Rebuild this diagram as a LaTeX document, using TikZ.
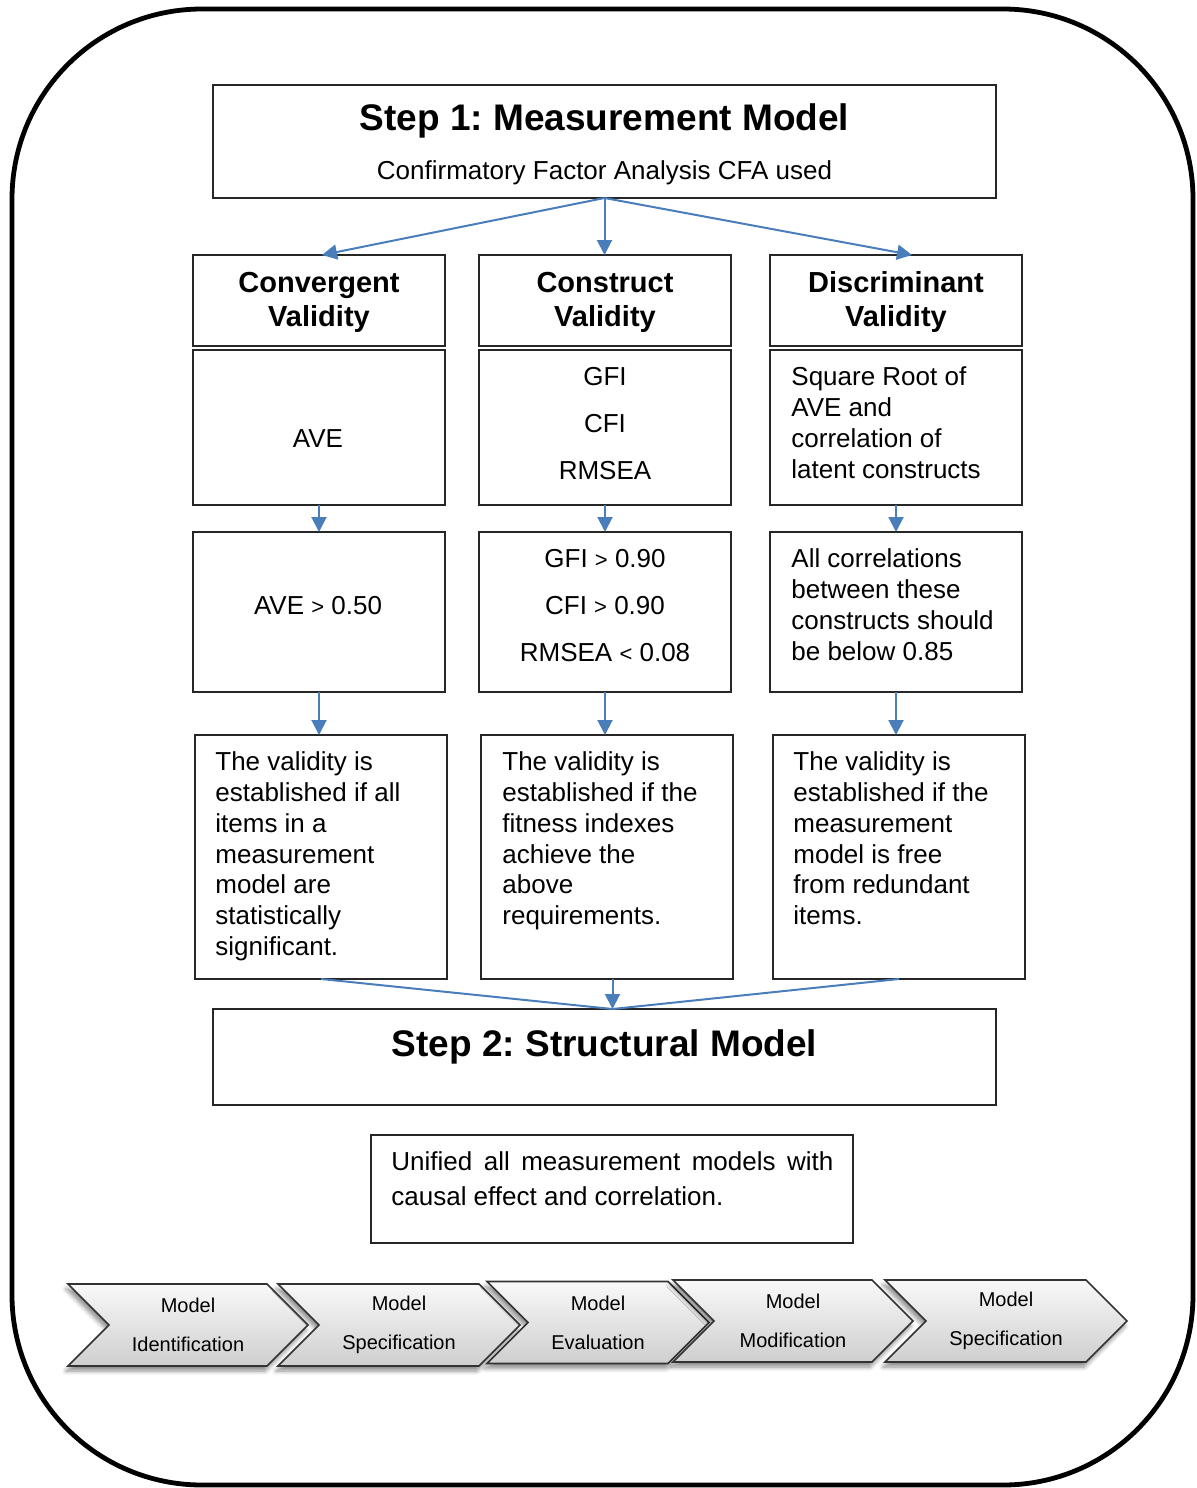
\documentclass[tikz,border=0pt]{standalone}
\usepackage{fontspec}
\setmainfont{Liberation Sans}
\usetikzlibrary{arrows.meta,shapes.symbols,shadows.blur,calc}
\definecolor{arrowblue}{RGB}{74,126,187}
\frenchspacing
\begin{document}
\begin{tikzpicture}[x=0.5pt,y=-0.5pt,
  box/.style={draw=black!85, line width=0.6pt, inner sep=0pt, outer sep=0pt, minimum width=126pt},
  flow/.style={draw=arrowblue, line width=1pt, -{Triangle[length=7.5pt,width=7.5pt]}},
  body/.style={font=\fontsize{13}{15.4}\selectfont, inner sep=0pt, align=left, anchor=north west},
  clist/.style={font=\fontsize{13}{23.5}\selectfont, inner sep=0pt, align=center, anchor=north},
  single/.style={font=\fontsize{13}{15.4}\selectfont, inner sep=0pt, anchor=base},
  head/.style={font=\fontsize{14.5}{17}\selectfont\bfseries, inner sep=0pt, align=center, anchor=north},
  title/.style={font=\fontsize{18.5}{22}\selectfont\bfseries, inner sep=0pt, anchor=base},
  chev/.style={signal, signal from=west, signal to=east, draw=black!80, line width=0.8pt,
    top color=gray!5, bottom color=gray!38, minimum height=41pt, inner sep=0pt,
    font=\fontsize{10}{19.5}\selectfont, align=center,
    blur shadow={shadow xshift=-1pt, shadow yshift=-2.5pt, shadow blur steps=6, shadow opacity=45}}
]
\useasboundingbox (0,0) rectangle (1196,1488);

% outer frame
\draw[line width=2.4pt, rounded corners=95pt] (12,9) rectangle (1193,1485);

% step 1
\node[box, minimum width=391.5pt, minimum height=56.5pt] (step1) at (604.5,141.5) {};
\node[title] (t1) at (604.5,130.3) {Step 1: Measurement Model};
\node[single] (t1s) at (604.5,179.3) {Confirmatory Factor Analysis CFA used};

% headers
\node[box, minimum height=45.5pt] (ha) at (319,300.5) {};
\node[box, minimum height=45.5pt] (hb) at (605,300.5) {};
\node[box, minimum height=45.5pt] (hc) at (896,300.5) {};
\node[head] (tha) at (319,271.5) {Convergent\\Validity};
\node[head] (thb) at (605,271.5) {Construct\\Validity};
\node[head] (thc) at (896,271.5) {Discriminant\\Validity};

% measures
\node[box, minimum height=77.5pt] (ra2) at (319,427.5) {};
\node[box, minimum height=77.5pt] (rb2) at (605,427.5) {};
\node[box, minimum height=77.5pt] (rc2) at (896,427.5) {};
\node[single] (ta2) at (318,447.3) {AVE};
\node[clist] (tb2) at (605,366.5) {GFI\\CFI\\RMSEA};
\node[body] (tc2) at (791,366.5) {Square Root of\\AVE and\\correlation of\\latent constructs};

% thresholds
\node[box, minimum height=80pt] (ra3) at (319,612) {};
\node[box, minimum height=80pt] (rb3) at (605,612) {};
\node[box, minimum height=80pt] (rc3) at (896,612) {};
\node[single] (ta3) at (318,614.3) {AVE {\fontsize{11}{13}\selectfont>} 0.50};
\node[clist] (tb3) at (605,548.5) {GFI {\fontsize{11}{13}\selectfont>} 0.90\\CFI {\fontsize{11}{13}\selectfont>} 0.90\\RMSEA {\fontsize{11}{13}\selectfont<} 0.08};
\node[body] (tc3) at (791,548.5) {All correlations\\between these\\constructs should\\be below 0.85};

% conclusions
\node[box, minimum height=122pt] (ra4) at (321,857) {};
\node[box, minimum height=122pt] (rb4) at (607,857) {};
\node[box, minimum height=122pt] (rc4) at (899,857) {};
\node[body] (ta4) at (215,751.5) {The validity is\\established if all\\items in a\\measurement\\model are\\statistically\\significant.};
\node[body] (tb4) at (502,751.5) {The validity is\\established if the\\fitness indexes\\achieve the\\above\\requirements.};
\node[body] (tc4) at (793,751.5) {The validity is\\established if the\\measurement\\model is free\\from redundant\\items.};

% step 2
\node[box, minimum width=391.5pt, minimum height=48pt] (step2) at (604.5,1057) {};
\node[title] (t2) at (604.5,1056.3) {Step 2: Structural Model};
\node[box, minimum width=241pt, minimum height=54pt] (uni) at (612,1189) {};
\node[body, font=\fontsize{13}{17.5}\selectfont] (tu) at (391,1151.5)
  {\makebox[221pt][s]{Unified all measurement models with}\\causal effect and correlation.};

% connectors
\draw[flow] (step1.south) -- ([xshift=1.5pt]ha.north);
\draw[flow] (step1.south) -- (step1.south |- hb.north);
\draw[flow] (step1.south) -- ([xshift=8pt]hc.north);
\foreach \c in {a,b,c}{
  \draw[flow] (r\c2.south) -- (r\c3.north);
  \draw[flow] (r\c3.south) -- (r\c3.south |- r\c4.north);
}
\coordinate (m) at ([xshift=4pt]step2.north);
\draw[draw=arrowblue, line width=1pt] (ra4.south) -- (m);
\draw[draw=arrowblue, line width=1pt] (rc4.south) -- (m);
\draw[flow] (rb4.south -| m) -- (m);

% process chevrons
\node[chev, minimum width=120pt] (c1) at (188,1325) {Model\\Identification};
\node[chev, minimum width=121pt] (c2) at (399,1325) {Model\\Specification};
\node[chev, minimum width=111pt] (c3) at (598,1322.5) {Model\\Evaluation};
\node[chev, minimum width=120pt] (c4) at (793,1321) {Model\\Modification};
\node[chev, minimum width=121pt] (c5) at (1006,1321) {Model\\Specification};
\end{tikzpicture}
\end{document}
